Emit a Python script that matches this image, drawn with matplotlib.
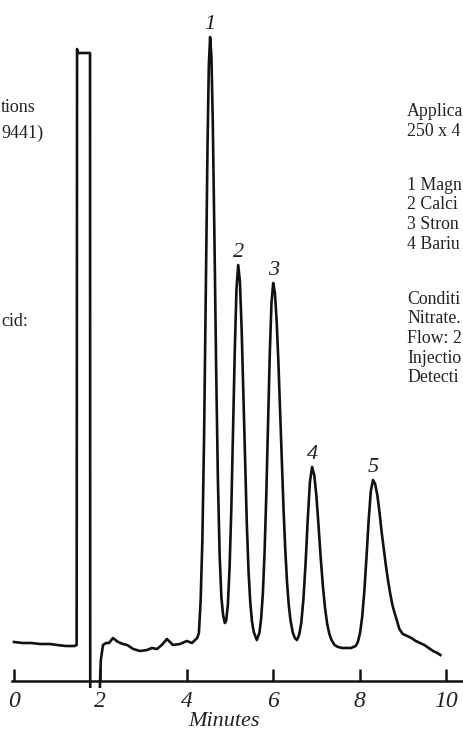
import matplotlib
matplotlib.use("Agg")
import matplotlib.pyplot as plt
import numpy as np

# ---------------- data ----------------
# time in minutes, detector signal in arbitrary units (0 = baseline)
t_pre = [0.00, 0.20, 0.40, 0.60, 0.83, 1.00, 1.20, 1.30, 1.40, 1.45]
s_pre = [3, 2, 2, 1, 1, 0, -1, -1, -1, 0]

t_inj = [1.46, 1.47, 1.76, 1.765, 1.985, 1.99, 2.01, 2.06, 2.13, 2.20, 2.29, 2.41,
         2.52, 2.62, 2.76, 2.92, 3.08, 3.19, 3.31, 3.42, 3.54, 3.68, 3.84, 4.00,
         4.12, 4.24]
s_inj = [596, 592, 592, -80, -80, -38, -15, 0, 2, 2, 7, 3,
         1, 0, -4, -6, -5, -3, -4, 0, 6, 0, 1, 4,
         2, 7]

t_p1 = [4.28, 4.32, 4.36, 4.40, 4.44, 4.48, 4.51, 4.54, 4.57, 4.60, 4.64, 4.68,
        4.72, 4.76, 4.80, 4.84, 4.88, 4.91]
s_p1 = [12, 44, 104, 208, 352, 500, 580, 608, 588, 527, 406, 275,
        165, 90, 48, 30, 22, 24]

t_p2 = [4.95, 4.99, 5.03, 5.07, 5.11, 5.15, 5.19, 5.23, 5.27, 5.31, 5.35, 5.39,
        5.43, 5.47, 5.51, 5.55, 5.62]
s_p2 = [40, 77, 135, 212, 293, 356, 380, 363, 315, 250, 181, 120,
        73, 42, 23, 13, 5]

t_p3 = [5.68, 5.72, 5.76, 5.80, 5.84, 5.88, 5.92, 5.96, 6.00, 6.04, 6.08, 6.12,
        6.16, 6.20, 6.24, 6.28, 6.32, 6.36, 6.40, 6.45, 6.50, 6.55]
s_p3 = [12, 26, 51, 92, 150, 220, 290, 342, 362, 352, 324, 283,
        233, 182, 135, 95, 63, 40, 25, 13, 7, 5]

t_p4 = [6.60, 6.65, 6.70, 6.75, 6.80, 6.85, 6.90, 6.95, 7.00, 7.05, 7.10, 7.15,
        7.20, 7.25, 7.30, 7.35, 7.42, 7.50, 7.60, 7.71, 7.80, 7.91]
s_p4 = [10, 22, 46, 82, 126, 163, 178, 170, 149, 119, 87, 59,
        37, 21, 11, 5, 0, -2, -3, -3, -3, -1]

t_p5 = [7.96, 8.01, 8.06, 8.11, 8.16, 8.21, 8.26, 8.31, 8.36, 8.41, 8.46, 8.51,
        8.56, 8.61, 8.66, 8.71, 8.76, 8.81, 8.86, 8.92, 9.00, 9.10, 9.20, 9.30,
        9.40, 9.50, 9.60, 9.70, 9.80, 9.87]
s_p5 = [3, 12, 28, 54, 88, 125, 154, 165, 161, 150, 133, 113,
        96, 79, 64, 51, 40, 32, 25, 16, 11, 9, 7, 4,
        2, 0, -3, -6, -8, -10]

peak_labels = ["1", "2", "3", "4", "5"]
peak_times = [4.54, 5.19, 6.00, 6.90, 8.31]
peak_heights = [608, 380, 362, 178, 165]

x_ticks = [0, 2, 4, 6, 8, 10]
x_tick_labels = ["0", "2", "4", "6", "8", "10"]
x_label = "Minutes"

# text visible in the (cropped) reference
left_notes = ["tions", "9441)", "cid:"]
left_notes_y = [107, 133, 322]
right_notes = ["Applica", "250 x 4",
               "1 Magn", "2 Calci", "3 Stron", "4 Bariu",
               "Conditi", "Nitrate.", "Flow: 2", "Injectio", "Detecti"]
right_notes_y = [112, 131.7, 185, 204.7, 224.4, 244.1,
                 299, 318.7, 338.4, 358.1, 377.8]

# ---------------- figure ----------------
W, H = 464, 734
DPI = 100
fig = plt.figure(figsize=(W / DPI, H / DPI), dpi=DPI)
fig.patch.set_facecolor("white")

ax_bottom_px = 688
ax = fig.add_axes([0, (H - ax_bottom_px) / H, 1, ax_bottom_px / H])
ax.set_facecolor("none")

t = np.array(t_pre + t_inj + t_p1 + t_p2 + t_p3 + t_p4 + t_p5)
s = np.array(s_pre + s_inj + s_p1 + s_p2 + s_p3 + s_p4 + s_p5)
ax.plot(t, s, color="#111111", lw=1.9, solid_joinstyle="round")

px_per_min = 43.2
x0_px = 14
ax.set_xlim(-x0_px / px_per_min, (W - x0_px) / px_per_min)
ax.set_ylim(645 - ax_bottom_px, 645)

for sp in ["left", "right", "top"]:
    ax.spines[sp].set_visible(False)
ax.spines["bottom"].set_position(("data", 645 - 681))
ax.spines["bottom"].set_bounds(-0.05, 10.5)
ax.spines["bottom"].set_linewidth(1.8)
ax.spines["bottom"].set_color("#111111")
ax.set_yticks([])
ax.set_xticks(x_ticks)
ax.set_xticklabels(x_tick_labels)
ax.tick_params(axis="x", direction="in", length=8.5, width=1.8, color="#111111",
               pad=7, labelsize=17)
for lbl in ax.get_xticklabels():
    lbl.set_fontfamily("Liberation Serif")
    lbl.set_fontstyle("italic")
    lbl.set_color("#222222")

fig.text(224 / W, 1 - 721 / H, x_label, ha="center", va="center",
         fontsize=16, family="Liberation Serif", style="italic", color="#222222")

for lab, pt, ph in zip(peak_labels, peak_times, peak_heights):
    ax.annotate(lab, (pt, ph), xytext=(0, 2), textcoords="offset points",
                ha="center", va="bottom", fontsize=16, family="Liberation Serif",
                style="italic", color="#222222")

for txt, yc in zip(left_notes, left_notes_y):
    fig.text(1 / W, 1 - yc / H, txt, ha="left", va="center", fontsize=13,
             family="Liberation Serif", color="#222222")

for txt, yc in zip(right_notes, right_notes_y):
    fig.text(407 / W, 1 - yc / H, txt, ha="left", va="center", fontsize=12.8,
             family="Liberation Serif", color="#222222")

fig.savefig("out.png", dpi=DPI)
